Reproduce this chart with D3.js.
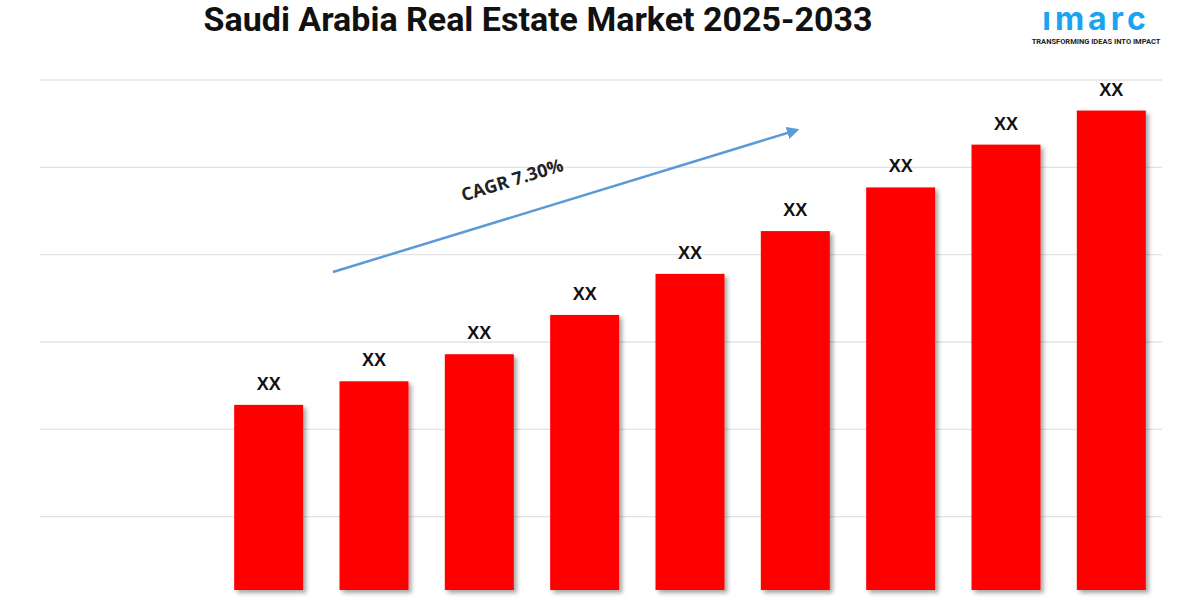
<!DOCTYPE html>
<html><head><meta charset="utf-8">
<script src="https://cdn.jsdelivr.net/npm/d3@7"></script>
<style>body{margin:0;background:#fff}svg{display:block}</style>
</head><body>
<svg id="c" width="1200" height="600"></svg>
<script>
const years = ["2025","2026","2027","2028","2029","2030","2031","2032","2033"];
const values = [2.28,2.55,2.86,3.31,3.78,4.27,4.77,5.26,5.65];
const labels = ["XX","XX","XX","XX","XX","XX","XX","XX","XX"];
const gridTicks = [1,2,3,4,5,6];

const svg = d3.select("#c");
const defs = svg.append("defs");
const f = defs.append("filter").attr("id","sh").attr("x","-20%").attr("y","-20%").attr("width","150%").attr("height","150%");
f.append("feDropShadow").attr("dx",3).attr("dy",3).attr("stdDeviation",2).attr("flood-color","#000").attr("flood-opacity",0.35);

const y = d3.scaleLinear().domain([0,6]).range([604,80]);
const x = d3.scaleBand().domain(years).range([216,1164]).paddingInner(0.345).paddingOuter(0.1725);
const base = 590;

svg.append("g").selectAll("line").data(gridTicks).join("line")
  .attr("x1",40).attr("x2",1162).attr("y1",d=>y(d)).attr("y2",d=>y(d))
  .attr("stroke","#e3e3e3").attr("stroke-width",1.3);

svg.append("g").selectAll("rect").data(values).join("rect")
  .attr("x",(d,i)=>x(years[i])).attr("width",x.bandwidth())
  .attr("y",d=>y(d)).attr("height",d=>base-y(d))
  .attr("fill","#ff0000").attr("filter","url(#sh)");

svg.append("g").selectAll("text").data(values).join("text")
  .attr("x",(d,i)=>x(years[i])+x.bandwidth()/2).attr("y",d=>y(d)-15)
  .attr("text-anchor","middle").attr("font-family","Liberation Sans, Arial, sans-serif")
  .attr("font-weight","bold").attr("font-size",18).attr("fill","#111")
  .text((d,i)=>labels[i]);

svg.append("text").attr("x",538).attr("y",31).attr("text-anchor","middle")
  .attr("font-family","Roboto, Liberation Sans, sans-serif").attr("font-weight","bold")
  .attr("font-size",34).attr("fill","#111").text("Saudi Arabia Real Estate Market 2025-2033");

// arrow
const m = defs.append("marker").attr("id","ah").attr("viewBox","0 0 10 10").attr("refX",8).attr("refY",5)
  .attr("markerWidth",5).attr("markerHeight",5).attr("orient","auto");
m.append("path").attr("d","M0,0L10,5L0,10z").attr("fill","#5b9bd5");
svg.append("line").attr("x1",333).attr("y1",272).attr("x2",797).attr("y2",130)
  .attr("stroke","#5b9bd5").attr("stroke-width",2.5).attr("marker-end","url(#ah)");
svg.append("text").attr("transform","translate(514,186) rotate(-17)").attr("text-anchor","middle")
  .attr("font-family","Open Sans, Liberation Sans, sans-serif").attr("font-weight","bold")
  .attr("font-size",18).attr("fill","#222").text("CAGR 7.30%");

// logo
svg.append("text").attr("x",1096).attr("y",30).attr("text-anchor","middle")
  .attr("font-family","Inter, Roboto, sans-serif").attr("font-weight","bold")
  .attr("font-size",32).attr("fill","#1aa3f0").attr("letter-spacing",4).text("ımarc");
svg.append("text").attr("x",1096).attr("y",44).attr("text-anchor","middle")
  .attr("font-family","Roboto, sans-serif").attr("font-weight","bold")
  .attr("font-size",7.5).attr("fill","#222").text("TRANSFORMING IDEAS INTO IMPACT");
</script>
</body></html>
